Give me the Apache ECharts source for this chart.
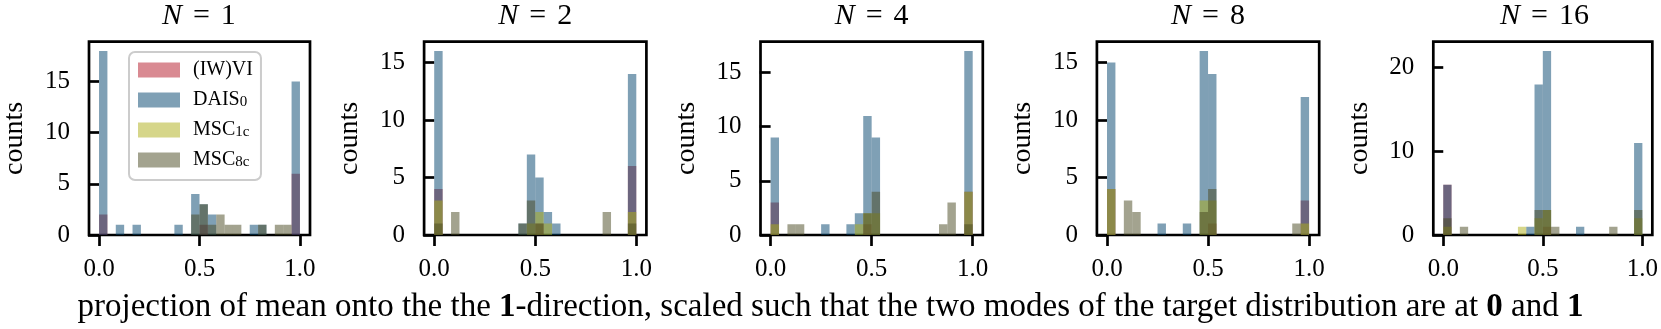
<!DOCTYPE html>
<html lang="en">
<head>
<meta charset="UTF-8">
<title>hist</title>
<script src="https://cdn.jsdelivr.net/npm/echarts@6/dist/echarts.min.js"></script>
<style>html,body{margin:0;padding:0;background:#fff;}</style>
</head>
<body>
<div id="main" style="width:1661px;height:329px;"></div>
<script>
// shared histogram bins on [0, 1]
var binLo = 0, binHi = 1, nBins = 24;
var panelN = [1, 2, 4, 8, 16];
var names = ['(IW)VI', 'DAIS0', 'MSC1c', 'MSC8c'];
var colors = ['rgba(179,21,37,0.5)', 'rgba(0,65,107,0.5)', 'rgba(173,173,21,0.5)', 'rgba(71,71,31,0.5)'];
var yMax = [18.9, 16.8, 17.85, 16.8, 23.1];
var yTicks = [[0, 5, 10, 15], [0, 5, 10, 15], [0, 5, 10, 15], [0, 5, 10, 15], [0, 10, 20]];
var xTicks = [0, 0.5, 1];

// counts per bin (24 bins), one array per method and panel
var viN1    = [2,0,0,0,0,0,0,0,0,0,0,0,1,0,0,0,0,0,0,0,0,0,0,6];
var daisN1  = [18,0,1,0,1,0,0,0,0,1,0,4,3,2,0,0,0,0,1,1,0,0,0,15];
var msc1N1  = [0,0,0,0,0,0,0,0,0,0,0,0,0,0,0,0,0,0,0,0,0,0,0,0];
var msc8N1  = [0,0,0,0,0,0,0,0,0,0,0,2,3,1,2,1,1,0,0,1,0,1,1,0];

var viN2    = [4,0,0,0,0,0,0,0,0,0,0,0,1,0,0,0,0,0,0,0,0,0,0,6];
var daisN2  = [16,0,0,0,0,0,0,0,0,0,1,7,5,2,1,0,0,0,0,0,0,0,0,14];
var msc1N2  = [3,0,0,0,0,0,0,0,0,0,0,1,2,1,0,0,0,0,0,0,0,0,0,2];
var msc8N2  = [1,0,2,0,0,0,0,0,0,0,1,3,1,0,0,0,0,0,0,0,2,0,0,1];

var viN4    = [3,0,0,0,0,0,0,0,0,0,0,1,0,0,0,0,0,0,0,0,0,0,0,4];
var daisN4  = [9,0,0,0,0,0,1,0,0,1,2,11,9,0,0,0,0,0,0,0,0,0,0,17];
var msc1N4  = [1,0,0,0,0,0,0,0,0,0,1,2,2,0,0,0,0,0,0,0,0,0,0,4];
var msc8N4  = [0,0,1,1,0,0,0,0,0,0,0,2,4,0,0,0,0,0,0,0,1,3,0,1];

var viN8    = [4,0,0,0,0,0,0,0,0,0,0,0,1,0,0,0,0,0,0,0,0,0,0,3];
var daisN8  = [15,0,0,0,0,0,1,0,0,1,0,16,14,0,0,0,0,0,0,0,0,0,0,12];
var msc1N8  = [4,0,0,0,0,0,0,0,0,0,0,3,3,0,0,0,0,0,0,0,0,0,0,1];
var msc8N8  = [0,0,3,2,0,0,0,0,0,0,0,2,4,0,0,0,0,0,0,0,0,0,1,0];

var viN16   = [6,0,0,0,0,0,0,0,0,0,0,0,1,0,0,0,0,0,0,0,0,0,0,0];
var daisN16 = [6,0,0,0,0,0,0,0,0,0,1,18,22,0,0,0,1,0,0,0,0,0,0,11];
var msc1N16 = [1,0,0,0,0,0,0,0,0,1,0,2,3,0,0,0,0,0,0,0,0,0,0,2];
var msc8N16 = [2,0,1,0,0,0,0,0,0,0,0,3,3,1,0,0,0,0,0,0,1,0,0,3];

var counts = [
    [viN1, daisN1, msc1N1, msc8N1],
    [viN2, daisN2, msc1N2, msc8N2],
    [viN4, daisN4, msc1N4, msc8N4],
    [viN8, daisN8, msc1N8, msc8N8],
    [viN16, daisN16, msc1N16, msc8N16]
];

var FONT = 'Liberation Serif';
var gridLeft0 = 87.7, gridStep = 336.4, gridW = 222.3, gridTop = 41.7, gridH = 193.3;

var myChart = echarts.init(document.getElementById('main'));

// one rectangle per bin: [left edge, right edge, count]
function renderBin(params, api) {
    var p0 = api.coord([api.value(0), 0]);
    var p1 = api.coord([api.value(1), api.value(2)]);
    return {
        type: 'rect',
        shape: {x: p0[0], y: p1[1], width: p1[0] - p0[0], height: p0[1] - p1[1]},
        style: {fill: api.visual('color')}
    };
}

function toBins(arr) {
    var out = [];
    var w = (binHi - binLo) / nBins;
    for (var k = 0; k < arr.length; k++) {
        if (arr[k] > 0) out.push([binLo + k * w, binLo + (k + 1) * w, arr[k]]);
    }
    return out;
}

var grids = [], xAxes = [], yAxes = [], series = [], graphics = [];
for (var i = 0; i < panelN.length; i++) {
    var left = gridLeft0 + gridStep * i;
    grids.push({
        left: left, top: gridTop, width: gridW, height: gridH,
        show: true, borderColor: '#000', borderWidth: 2.7, backgroundColor: 'transparent'
    });
    xAxes.push({
        gridIndex: i, type: 'value', min: -0.05, max: 1.05,
        axisLine: {show: false}, splitLine: {show: false},
        axisTick: {show: true, length: 11, lineStyle: {color: '#000', width: 2.7}, customValues: xTicks},
        axisLabel: {
            margin: 22, color: '#000', fontFamily: FONT, fontSize: 25, customValues: xTicks,
            formatter: function (v) { return v.toFixed(1); }
        }
    });
    yAxes.push({
        gridIndex: i, type: 'value', min: 0, max: yMax[i],
        name: 'counts', nameLocation: 'middle', nameGap: 60,
        nameTextStyle: {fontFamily: FONT, fontSize: 28, color: '#000'},
        axisLine: {show: false}, splitLine: {show: false},
        axisTick: {show: true, length: 11, lineStyle: {color: '#000', width: 2.7}, customValues: yTicks[i]},
        axisLabel: {margin: 19, color: '#000', fontFamily: FONT, fontSize: 25, customValues: yTicks[i]}
    });
    for (var s = 0; s < names.length; s++) {
        series.push({
            name: names[s], type: 'custom', renderItem: renderBin,
            xAxisIndex: i, yAxisIndex: i, clip: true,
            itemStyle: {color: colors[s]},
            encode: {x: [0, 1], y: 2},
            data: toBins(counts[i][s])
        });
    }
    graphics.push({
        type: 'text', x: left + gridW / 2, y: 16,
        style: {
            text: '{i|N}{e|=}' + panelN[i], textAlign: 'center', textVerticalAlign: 'middle',
            fontFamily: FONT, fontSize: 30, fill: '#000',
            rich: {
                i: {fontStyle: 'italic', fontSize: 30, fontFamily: FONT},
                e: {fontSize: 30, fontFamily: FONT, padding: [0, 11, 0, 11]}
            }
        }
    });
}

graphics.push({
    type: 'text', x: 830.5, y: 307,
    style: {
        text: 'projection of mean onto the the {b|1}-direction, scaled such that the two modes of the target distribution are at {b|0} and {b|1}',
        textAlign: 'center', textVerticalAlign: 'middle',
        fontFamily: FONT, fontSize: 33, fill: '#000',
        rich: {b: {fontWeight: 'bold', fontSize: 33, fontFamily: FONT}}
    }
});

var subs = {'(IW)VI': '(IW)VI', 'DAIS0': 'DAIS{s|0}', 'MSC1c': 'MSC{s|1c}', 'MSC8c': 'MSC{s|8c}'};

var option = {
    animation: false,
    grid: grids,
    xAxis: xAxes,
    yAxis: yAxes,
    legend: {
        data: names, orient: 'vertical', left: 129, top: 52,
        icon: 'rect', itemWidth: 42, itemHeight: 15, itemGap: 10,
        padding: [8, 8, 10, 9],
        backgroundColor: 'rgba(255,255,255,0.8)', borderColor: '#ccc', borderWidth: 2, borderRadius: 6,
        formatter: function (n) { return subs[n]; },
        textStyle: {
            fontFamily: FONT, fontSize: 20, color: '#000', lineHeight: 20, padding: [0, 0, 0, 8],
            rich: {s: {fontFamily: FONT, fontSize: 15, lineHeight: 4, verticalAlign: 'bottom'}}
        }
    },
    graphic: graphics,
    series: series
};
myChart.setOption(option);
</script>
</body>
</html>
